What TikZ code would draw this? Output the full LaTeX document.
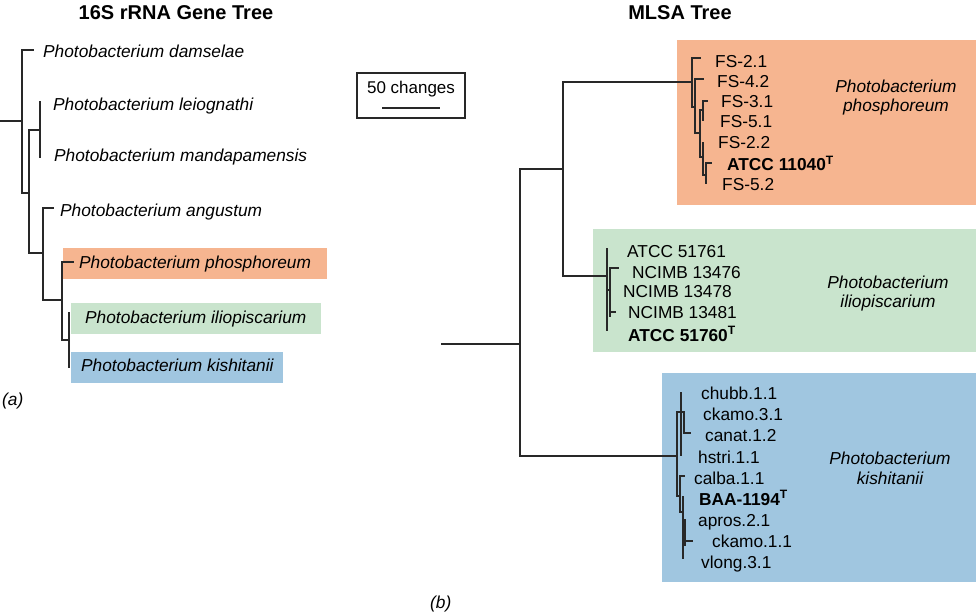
\documentclass[tikz,border=0pt]{standalone}
\usepackage{fontspec}
\setmainfont{Liberation Sans}
\definecolor{orng}{RGB}{246,181,144}
\definecolor{grn}{RGB}{201,228,205}
\definecolor{blu}{RGB}{160,198,224}
\definecolor{ink}{RGB}{40,40,40}
\tikzset{
  tree/.style={draw=ink, line width=1.1pt, line cap=rect},
  lab/.style={anchor=base west, inner sep=0pt, font=\fontsize{17.3}{20}\selectfont},
  ilab/.style={anchor=base west, inner sep=0pt, font=\fontsize{17.3}{20}\selectfont\itshape},
  clab/.style={anchor=base, inner sep=0pt, font=\fontsize{17.3}{20}\selectfont\itshape},
  blab/.style={anchor=base west, inner sep=0pt, font=\fontsize{17.3}{20}\selectfont\bfseries},
  ttl/.style={anchor=base, inner sep=0pt, font=\fontsize{20}{24}\selectfont\bfseries},
}
\begin{document}
\begin{tikzpicture}[x=1pt,y=-1pt]
\useasboundingbox (0,0) rectangle (976,612);

% ---------- titles ----------
\node[ttl] (t16) at (176,20) {16S rRNA Gene Tree};
\node[ttl] (tml) at (680,20) {MLSA Tree};

% ---------- coloured boxes ----------
\fill[orng] (63,248) rectangle (327,279);
\fill[grn]  (71,303) rectangle (321,334);
\fill[blu]  (71,352) rectangle (283,383);
\fill[orng] (677,40) rectangle (976,205);
\fill[grn]  (593,229) rectangle (976,352);
\fill[blu]  (662,373) rectangle (976,582);

% ---------- scale box ----------
\node[draw=ink, line width=1.2pt, minimum width=108pt, minimum height=45pt, inner sep=0pt] (scalebox) at (411,95.5) {};
\node[anchor=base, inner sep=0pt, font=\fontsize{17}{20}\selectfont] (scaletxt) at (411,94) {50 changes};
\coordinate (sbl) at (382,108);
\coordinate (sbr) at (440,108);
\draw[ink, line width=1.1pt] (sbl) -- (sbr);

% ---------- left tree ----------
\coordinate (lroot) at (0,121);
\coordinate (n1) at (22,121);
\coordinate (n1a) at (22,50);
\coordinate (n1b) at (22,193);
\coordinate (tdam) at (33,50);
\coordinate (n2) at (29,193);
\coordinate (n2a) at (29,130);
\coordinate (n2b) at (29,253);
\coordinate (n3) at (40,130);
\coordinate (n3a) at (40,102);
\coordinate (n3b) at (40,157);
\coordinate (n4) at (43,253);
\coordinate (n4a) at (43,208);
\coordinate (n4b) at (43,300);
\coordinate (tang) at (53,208);
\coordinate (n5) at (62,300);
\coordinate (n5a) at (62,262);
\coordinate (n5b) at (62,340);
\coordinate (tpho) at (73,262);
\coordinate (n6) at (69,340);
\coordinate (n6a) at (69,313);
\coordinate (n6b) at (69,367);

\draw[tree] (lroot) -- (n1);
\draw[tree] (tdam) -- (n1a) -- (n1b) -- (n2);
\draw[tree] (n3) -- (n2a) -- (n2b) -- (n4);
\draw[tree] (n3a) -- (n3b);
\draw[tree] (tang) -- (n4a) -- (n4b) -- (n5);
\draw[tree] (tpho) -- (n5a) -- (n5b) -- (n6);
\draw[tree] (n6a) -- (n6b);

\node[ilab] (ldam) at (43,58) {Photobacterium damselae};
\node[ilab] (lleo) at (53,111) {Photobacterium leiognathi};
\node[ilab] (lman) at (54,162) {Photobacterium mandapamensis};
\node[ilab] (lang) at (60,217) {Photobacterium angustum};
\node[ilab] (lpho) at (79,269) {Photobacterium phosphoreum};
\node[ilab] (lili) at (85,323) {Photobacterium iliopiscarium};
\node[ilab] (lkis) at (81,371) {Photobacterium kishitanii};
\node[ilab] (pa) at (2,405) {(a)};

% ---------- right tree ----------
\coordinate (rroot) at (442,344);
\coordinate (r1) at (520,344);
\coordinate (r1a) at (520,169);
\coordinate (r1b) at (520,456);
\coordinate (r2) at (563,169);
\coordinate (r2a) at (563,82);
\coordinate (r2b) at (563,276);
% orange clade
\coordinate (o1) at (692,82);
\coordinate (o1a) at (692,58);
\coordinate (o1b) at (692,107);
\coordinate (tfsa) at (700,58);
\coordinate (o2) at (695,107);
\coordinate (o2a) at (695,79);
\coordinate (o2b) at (695,133);
\coordinate (tfsb) at (703,79);
\coordinate (o3) at (700,133);
\coordinate (o3a) at (700,110);
\coordinate (o3b) at (700,157);
\coordinate (o4) at (703,110);
\coordinate (o4a) at (703,101);
\coordinate (o4b) at (703,120);
\coordinate (tfsc) at (707,101);
\coordinate (o5) at (703,157);
\coordinate (o5a) at (703,143);
\coordinate (o5b) at (703,175);
\coordinate (o6) at (706,175);
\coordinate (o6a) at (706,163);
\coordinate (o6b) at (706,183);
\coordinate (tatc) at (711,163);
% green clade
\coordinate (g1) at (607,276);
\coordinate (g1a) at (607,249);
\coordinate (g1b) at (607,330);
\coordinate (g1c) at (607,290);
\coordinate (g2) at (610,290);
\coordinate (g2a) at (610,268);
\coordinate (g2b) at (610,316);
\coordinate (g2c) at (610,312);
\coordinate (tnca) at (618,268);
\coordinate (tncb) at (615,312);
% blue clade
\coordinate (b1) at (677,456);
\coordinate (b1a) at (677,412);
\coordinate (b1b) at (677,496);
\coordinate (b2a) at (681,393);
\coordinate (b2b) at (681,455);
\coordinate (b3) at (684,412);
\coordinate (b3b) at (684,433);
\coordinate (tcan) at (690,433);
\coordinate (b4) at (680,496);
\coordinate (b4a) at (680,476);
\coordinate (b4b) at (680,512);
\coordinate (tcal) at (684,476);
\coordinate (b5) at (683,512);
\coordinate (b5a) at (683,497);
\coordinate (b5b) at (683,558);
\coordinate (b5c) at (683,530);
\coordinate (b6) at (685,530);
\coordinate (b6a) at (685,520);
\coordinate (b6b) at (685,545);
\coordinate (b6c) at (685,541);
\coordinate (tckb) at (692,541);

\draw[tree] (rroot) -- (r1);
\draw[tree] (r2) -- (r1a) -- (r1b) -- (b1);
\draw[tree] (o1) -- (r2a) -- (r2b) -- (g1);
\draw[tree] (tfsa) -- (o1a) -- (o1b) -- (o2);
\draw[tree] (tfsb) -- (o2a) -- (o2b) -- (o3);
\draw[tree] (o4) -- (o3a) -- (o3b) -- (o5);
\draw[tree] (tfsc) -- (o4a) -- (o4b);
\draw[tree] (o5a) -- (o5b) -- (o6);
\draw[tree] (tatc) -- (o6a) -- (o6b);
\draw[tree] (g1a) -- (g1b);
\draw[tree] (g1c) -- (g2);
\draw[tree] (tnca) -- (g2a) -- (g2b);
\draw[tree] (g2c) -- (tncb);
\draw[tree] (b3) -- (b1a) -- (b1b) -- (b4);
\draw[tree] (b2a) -- (b2b);
\draw[tree] (b3) -- (b3b) -- (tcan);
\draw[tree] (tcal) -- (b4a) -- (b4b) -- (b5);
\draw[tree] (b5a) -- (b5b);
\draw[tree] (b5c) -- (b6);
\draw[tree] (b6a) -- (b6b);
\draw[tree] (b6c) -- (tckb);

% orange labels
\node[lab] (fsa) at (715,68) {FS-2.1};
\node[lab] (fsb) at (717,88) {FS-4.2};
\node[lab] (fsc) at (721,108) {FS-3.1};
\node[lab] (fsd) at (720,128) {FS-5.1};
\node[lab] (fse) at (718,149) {FS-2.2};
\node[blab] (atcca) at (727,171) {ATCC 11040\textsuperscript{T}};
\node[lab] (fsf) at (722,191) {FS-5.2};
\node[clab] (cpa) at (896,93) {Photobacterium};
\node[clab] (cpb) at (896,112) {phosphoreum};
% green labels
\node[lab] (ga) at (627,257) {ATCC 51761};
\node[lab] (gb) at (632,278) {NCIMB 13476};
\node[lab] (gc) at (623,297) {NCIMB 13478};
\node[lab] (gd) at (628,318) {NCIMB 13481};
\node[blab] (ge) at (628,341) {ATCC 51760\textsuperscript{T}};
\node[clab] (cga) at (888,288) {Photobacterium};
\node[clab] (cgb) at (888,307) {iliopiscarium};
% blue labels
\node[lab] (ba) at (701,399) {chubb.1.1};
\node[lab] (bb) at (703,420) {ckamo.3.1};
\node[lab] (bc) at (705,441.5) {canat.1.2};
\node[lab] (bd) at (698,463) {hstri.1.1};
\node[lab] (be) at (694,484) {calba.1.1};
\node[blab] (bf) at (699,505) {BAA-1194\textsuperscript{T}};
\node[lab] (bg) at (698,526) {apros.2.1};
\node[lab] (bh) at (712,547) {ckamo.1.1};
\node[lab] (bi) at (701,568) {vlong.3.1};
\node[clab] (cba) at (890,464) {Photobacterium};
\node[clab] (cbb) at (890,484) {kishitanii};

\node[ilab] (pb) at (430,608) {(b)};
\end{tikzpicture}
\end{document}
